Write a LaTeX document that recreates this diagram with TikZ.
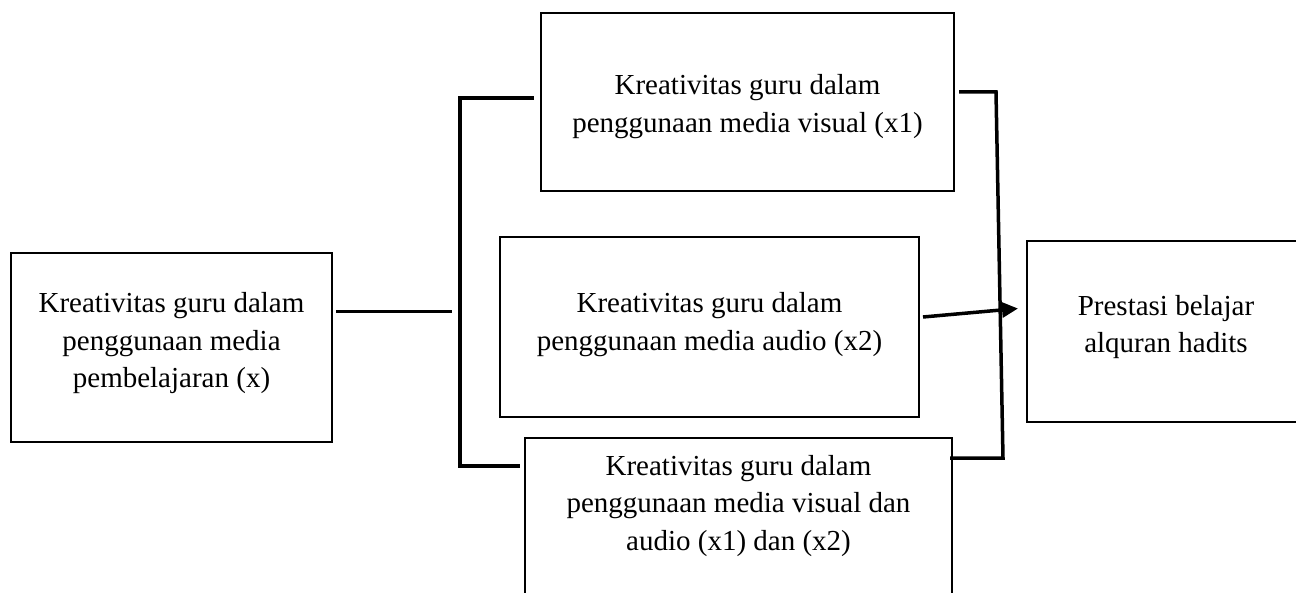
\documentclass[tikz,border=0pt]{standalone}
\usepackage{fontspec}
\setmainfont{Liberation Serif}
\usetikzlibrary{arrows.meta,calc}
\newcommand\mlines[1]{\begin{tabular}[t]{@{}c@{}}#1\end{tabular}}
\begin{document}
\begin{tikzpicture}[x=0.5pt,y=-0.5pt,
  box/.style={draw,line width=1pt,rectangle,inner sep=0pt,outer sep=0pt,anchor=north west},
  txt/.style={anchor=base,inner sep=0pt,font=\fontsize{14.5}{18.75}\selectfont},
  conn/.style={line width=1.75pt}]
\useasboundingbox (0,0) rectangle (1296,593);
\fill[white] (0,0) rectangle (1296,593);
\clip (0,0) rectangle (1296,593);
% boxes
\node[box,minimum width=160.5pt,minimum height=94.5pt] (bxL) at (11,253) {};
\node[box,minimum width=206.5pt,minimum height=89pt]   (bxT) at (541,13) {};
\node[box,minimum width=209.5pt,minimum height=90pt]   (bxM) at (500,237) {};
\node[box,minimum width=213.5pt,minimum height=90pt]   (bxB) at (525,438) {};
\node[box,minimum width=139pt,minimum height=90.5pt]   (bxR) at (1027,241) {};
% texts
\node[txt] (tL) at (171.5,313) {\mlines{Kreativitas guru dalam\\penggunaan media\\pembelajaran (x)}};
\node[txt] (tT) at (747.5,95) {\mlines{Kreativitas guru dalam\\penggunaan media visual (x1)}};
\node[txt] (tM) at (709.5,313) {\mlines{Kreativitas guru dalam\\penggunaan media audio (x2)}};
\node[txt] (tB) at (738.5,475) {\mlines{Kreativitas guru dalam\\penggunaan media visual dan\\audio (x1) dan (x2)}};
\node[txt] (tR) at (1166,315) {\mlines{Prestasi belajar\\alquran hadits}};
% bracket corners
\coordinate (jL) at (452,311.5);
\coordinate (lbT) at (460,98);
\coordinate (lbB) at (460,466);
\coordinate (rbT) at (996,92);
\coordinate (rbB) at (1003,458);
% connectors
\draw[conn] ($(bxL.east)+(4,-36)$) -- (jL);
\draw[conn] ($(bxT.west)+(-7,-4)$) -- (lbT) -- (lbB) -- ($(bxB.west)+(-5,-62)$);
\draw[conn] ($(bxT.east)+(5,-10)$) -- (rbT) -- (rbB) -- ($(bxB.east)+(-2,-70)$);
\draw[conn,-{Triangle[length=8pt,width=7.5pt]}] ($(bxM.east)+(4,-10)$) -- ($(bxR.west)+(-9,-23)$);
\end{tikzpicture}
\end{document}
